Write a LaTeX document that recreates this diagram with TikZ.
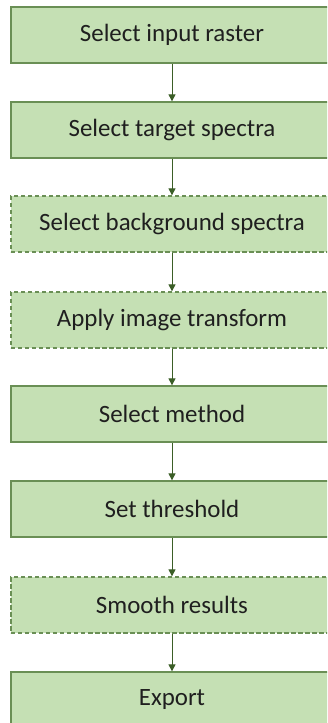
\documentclass[tikz,border=0pt]{standalone}
\usepackage{fontspec}
\setmainfont{Carlito}
\usetikzlibrary{arrows.meta}
\definecolor{boxfill}{HTML}{C5E0B4}
\definecolor{boxline}{HTML}{6A8F55}
\definecolor{arrowc}{HTML}{3B5E27}
\tikzset{
  stepbox/.style={draw=boxline, fill=boxfill, line width=1.3bp, minimum width=322bp, minimum height=56bp, inner sep=0pt, font=\fontsize{25}{30}\selectfont, text=black!88},
  optbox/.style={stepbox, dash pattern=on 4.5bp off 2.5bp},
  link/.style={draw=arrowc, line width=1bp, -{Triangle[width=7bp,length=7bp]}}
}
\begin{document}
\begin{tikzpicture}[x=1bp,y=-1bp]
\useasboundingbox (0,0) rectangle (327,723);
\clip (0,0) rectangle (327,723);
\node[stepbox] (n1) at (172,35) {Select input raster};
\node[stepbox] (n2) at (172,130) {Select target spectra};
\node[optbox]  (n3) at (172,224) {Select background spectra};
\node[optbox]  (n4) at (172,320) {Apply image transform};
\node[stepbox] (n5) at (172,414) {Select method};
\node[stepbox] (n6) at (172,509) {Set threshold};
\node[optbox]  (n7) at (172,605) {Smooth results};
\node[stepbox] (n8) at (172,700) {Export};
\foreach \a/\b in {n1/n2,n2/n3,n3/n4,n4/n5,n5/n6,n6/n7,n7/n8}
  \draw[link] (\a.south) -- (\b.north);
\end{tikzpicture}
\end{document}
